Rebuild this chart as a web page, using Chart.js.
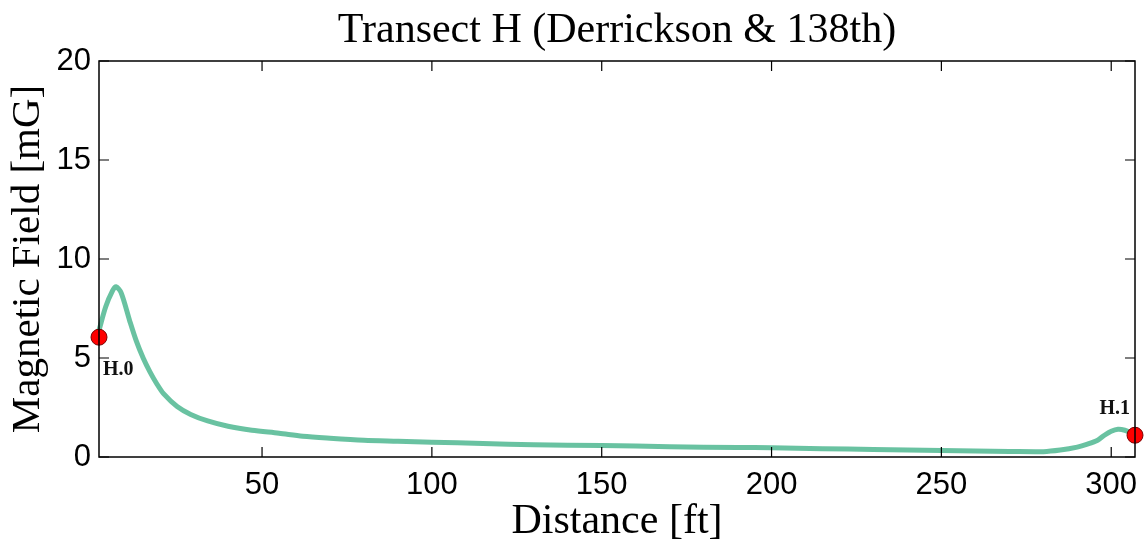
<!DOCTYPE html>
<html>
<head>
<meta charset="utf-8">
<script src="https://cdn.jsdelivr.net/npm/chart.js@4.4.0/dist/chart.umd.min.js"></script>
<style>
  html, body { margin: 0; padding: 0; background: #fff; }
  #wrap { width: 1144px; height: 541px; }
</style>
</head>
<body>
<div id="wrap"><canvas id="chart"></canvas></div>
<script>
// distance [ft] and field [mG]
const distance = [2, 4, 6, 7, 8.5, 11, 13, 15, 17, 19, 21, 25, 29, 34, 40, 47, 55, 62, 70, 80, 90, 100, 115, 130, 150, 170, 190, 200, 215, 230, 240, 250, 260, 270, 280, 285, 290, 293, 296, 298, 300, 302, 304, 306, 307];
const field = [6.4, 7.6, 8.4, 8.6, 8.3, 6.9, 5.85, 5.0, 4.3, 3.7, 3.2, 2.55, 2.15, 1.82, 1.55, 1.35, 1.2, 1.05, 0.95, 0.85, 0.8, 0.75, 0.68, 0.62, 0.58, 0.52, 0.48, 0.47, 0.42, 0.38, 0.35, 0.33, 0.3, 0.28, 0.27, 0.35, 0.5, 0.65, 0.85, 1.1, 1.3, 1.4, 1.35, 1.2, 1.1];

const markerX = [2, 307];
const markerY = [6.05, 1.1];
const markerLabels = ["H.0", "H.1"];

const xTicks = [50, 100, 150, 200, 250, 300];
const yTicks = [0, 5, 10, 15, 20];

const titleText = "Transect H (Derrickson & 138th)";

// matlab style frame: box on all sides, ticks pointing inward
const framePlugin = {
  id: "frame",
  afterDatasetsDraw(chart) {
    const ctx = chart.ctx;
    const a = chart.chartArea;
    const xs = chart.scales.x, ys = chart.scales.y;
    ctx.save();
    ctx.strokeStyle = "#000";
    ctx.lineWidth = 1.5;
    ctx.strokeRect(a.left, a.top, a.right - a.left, a.bottom - a.top);
    ctx.lineWidth = 1.2;
    ctx.beginPath();
    xTicks.forEach(v => {
      const px = xs.getPixelForValue(v);
      ctx.moveTo(px, a.bottom); ctx.lineTo(px, a.bottom - 10);
      ctx.moveTo(px, a.top); ctx.lineTo(px, a.top + 10);
    });
    yTicks.forEach(v => {
      const py = ys.getPixelForValue(v);
      ctx.moveTo(a.left, py); ctx.lineTo(a.left + 10, py);
      ctx.moveTo(a.right, py); ctx.lineTo(a.right - 10, py);
    });
    ctx.stroke();

    // point labels
    ctx.fillStyle = "#111";
    ctx.font = "bold 20px 'Liberation Serif'";
    ctx.textBaseline = "alphabetic";
    ctx.textAlign = "left";
    ctx.fillText(markerLabels[0], xs.getPixelForValue(markerX[0]) + 4, ys.getPixelForValue(markerY[0]) + 38);
    ctx.textAlign = "right";
    ctx.fillText(markerLabels[1], xs.getPixelForValue(markerX[1]) - 5, ys.getPixelForValue(markerY[1]) - 21);

    // title
    ctx.fillStyle = "#000";
    ctx.font = "42px 'Liberation Serif'";
    ctx.textAlign = "center";
    ctx.fillText(titleText, (a.left + a.right) / 2, 42);
    ctx.restore();
  }
};

new Chart(document.getElementById("chart"), {
  type: "scatter",
  data: {
    datasets: [
      {
        data: markerX.map((x, i) => ({ x: x, y: markerY[i] })),
        showLine: false,
        pointRadius: 8,
        pointBackgroundColor: "#ff0000",
        pointBorderColor: "#7a0000",
        pointBorderWidth: 1,
        order: 0
      },
      {
        data: distance.map((x, i) => ({ x: x, y: field[i] })),
        showLine: true,
        borderColor: "rgba(84, 186, 148, 0.88)",
        borderWidth: 5,
        pointRadius: 0,
        tension: 0.3,
        order: 1
      }
    ]
  },
  options: {
    responsive: true,
    maintainAspectRatio: false,
    animation: false,
    clip: false,
    layout: { padding: { top: 61, right: 5, left: 0, bottom: 0 } },
    plugins: { legend: { display: false }, title: { display: false }, tooltip: { enabled: false } },
    scales: {
      x: {
        type: "linear",
        min: 2,
        max: 307,
        afterBuildTicks: s => { s.ticks = xTicks.map(v => ({ value: v })); },
        afterFit: s => { s.height = 84; },
        grid: { display: false },
        border: { display: false },
        ticks: { color: "#000", padding: 2, font: { family: "'Liberation Sans'", size: 31 }, maxRotation: 0 },
        title: { display: true, text: "Distance [ft]", color: "#000", padding: { top: 0, bottom: -6 }, font: { family: "'Liberation Serif'", size: 42 } }
      },
      y: {
        min: 0,
        max: 20,
        afterBuildTicks: s => { s.ticks = yTicks.map(v => ({ value: v })); },
        afterFit: s => { s.width = 99; },
        grid: { display: false },
        border: { display: false },
        ticks: { color: "#000", padding: 0, font: { family: "'Liberation Sans'", size: 31 } },
        title: { display: true, text: "Magnetic Field [mG]", color: "#000", padding: { top: 4, bottom: 0 }, font: { family: "'Liberation Serif'", size: 41 } }
      }
    }
  },
  plugins: [framePlugin]
});
</script>
</body>
</html>
